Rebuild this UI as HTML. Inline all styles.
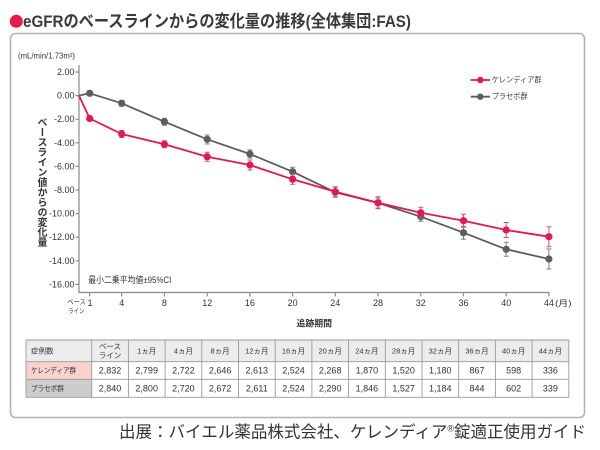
<!DOCTYPE html>
<html>
<head>
<meta charset="utf-8">
<style>
  html,body{margin:0;padding:0;background:#fff;}
  #wrap{position:relative;width:600px;height:450px;overflow:hidden;background:#fff;
    font-family:"Liberation Sans","Noto Sans CJK JP",sans-serif;}
  svg{position:absolute;left:0;top:0;}
  .ylab{position:absolute;left:35px;top:117px;font-size:10px;line-height:10px;font-weight:bold;
    writing-mode:vertical-rl;color:#333;font-family:"Liberation Sans","Noto Sans CJK JP",sans-serif;letter-spacing:0;}
</style>
</head>
<body>
<div id="wrap">
<svg width="600" height="450" viewBox="0 0 600 450" xmlns="http://www.w3.org/2000/svg"
  font-family="Liberation Sans, Noto Sans CJK JP, sans-serif">
  <!-- title -->
  <circle cx="16.3" cy="21.3" r="6.5" fill="#e8194a"/>
  <text x="23" y="27" font-size="17" font-weight="bold" fill="#3a3a3a" textLength="388" lengthAdjust="spacingAndGlyphs">eGFRのベースラインからの変化量の推移(全体集団:FAS)</text>

  <!-- panel -->
  <rect x="10.5" y="33.5" width="574" height="384" rx="5" ry="5" fill="#fff" stroke="#b3b3b3" stroke-width="1.6"/>

  <!-- unit -->
  <text x="18" y="56" font-size="8" fill="#333" dominant-baseline="central" textLength="57" lengthAdjust="spacingAndGlyphs">(mL/min/1.73m²)</text>

  <!-- axes -->
  <g stroke="#8a8a8a" stroke-width="1.2" fill="none">
    <line x1="79" y1="65" x2="79" y2="293"/>
    <line x1="78.4" y1="292.5" x2="549.5" y2="292.5"/>
    <line x1="75.5" y1="72" x2="79" y2="72"/>
    <line x1="75.5" y1="95.6" x2="79" y2="95.6"/>
    <line x1="75.5" y1="119.2" x2="79" y2="119.2"/>
    <line x1="75.5" y1="142.8" x2="79" y2="142.8"/>
    <line x1="75.5" y1="166.4" x2="79" y2="166.4"/>
    <line x1="75.5" y1="190" x2="79" y2="190"/>
    <line x1="75.5" y1="213.6" x2="79" y2="213.6"/>
    <line x1="75.5" y1="237.2" x2="79" y2="237.2"/>
    <line x1="75.5" y1="260.8" x2="79" y2="260.8"/>
    <line x1="75.5" y1="284.4" x2="79" y2="284.4"/>
    <line x1="89.7" y1="292.5" x2="89.7" y2="296.5"/>
    <line x1="121.7" y1="292.5" x2="121.7" y2="296.5"/>
    <line x1="164.4" y1="292.5" x2="164.4" y2="296.5"/>
    <line x1="207.2" y1="292.5" x2="207.2" y2="296.5"/>
    <line x1="249.9" y1="292.5" x2="249.9" y2="296.5"/>
    <line x1="292.6" y1="292.5" x2="292.6" y2="296.5"/>
    <line x1="335.3" y1="292.5" x2="335.3" y2="296.5"/>
    <line x1="378" y1="292.5" x2="378" y2="296.5"/>
    <line x1="420.8" y1="292.5" x2="420.8" y2="296.5"/>
    <line x1="463.5" y1="292.5" x2="463.5" y2="296.5"/>
    <line x1="506.2" y1="292.5" x2="506.2" y2="296.5"/>
    <line x1="548.9" y1="292.5" x2="548.9" y2="296.5"/>
  </g>

  <!-- y tick labels -->
  <g font-size="9" fill="#333" text-anchor="end" dominant-baseline="central">
    <text x="74.5" y="72">2.00</text>
    <text x="74.5" y="95.6">0.00</text>
    <text x="74.5" y="119.2">-2.00</text>
    <text x="74.5" y="142.8">-4.00</text>
    <text x="74.5" y="166.4">-6.00</text>
    <text x="74.5" y="190">-8.00</text>
    <text x="74.5" y="213.6">-10.00</text>
    <text x="74.5" y="237.2">-12.00</text>
    <text x="74.5" y="260.8">-14.00</text>
    <text x="74.5" y="284.4">-16.00</text>
  </g>

  <!-- x tick labels -->
  <g font-size="9" fill="#333" text-anchor="middle" dominant-baseline="central">
    <text x="90" y="303">1</text>
    <text x="121.7" y="303">4</text>
    <text x="164.4" y="303">8</text>
    <text x="207.2" y="303">12</text>
    <text x="249.9" y="303">16</text>
    <text x="292.6" y="303">20</text>
    <text x="335.3" y="303">24</text>
    <text x="378" y="303">28</text>
    <text x="420.8" y="303">32</text>
    <text x="463.5" y="303">36</text>
    <text x="506.2" y="303">40</text>
    <text x="548.9" y="303">44</text>
  </g>
  <text x="555" y="303.5" font-size="8" fill="#333" dominant-baseline="central" textLength="16.5" lengthAdjust="spacingAndGlyphs">(月)</text>
  <text x="67.3" y="302.3" font-size="6.5" fill="#333" dominant-baseline="central" textLength="18.5" lengthAdjust="spacingAndGlyphs">ベース</text>
  <text x="68.3" y="311.7" font-size="6.5" fill="#333" dominant-baseline="central" textLength="16" lengthAdjust="spacingAndGlyphs">ライン</text>
  <text x="296.5" y="323.3" font-size="9" font-weight="bold" fill="#333" dominant-baseline="central" textLength="35.5" lengthAdjust="spacingAndGlyphs">追跡期間</text>

  <!-- CI note -->
  <text x="88.3" y="280" font-size="9" fill="#333" dominant-baseline="central" textLength="83" lengthAdjust="spacingAndGlyphs">最小二乗平均値±95%CI</text>

  <!-- placebo series -->
  <g stroke="#7d8184" stroke-width="1">
    <path d="M89.7 90.8V95.8M87.2 90.8H92.2M87.2 95.8H92.2"/>
    <path d="M121.7 100.3V106.3M119.2 100.3H124.2M119.2 106.3H124.2"/>
    <path d="M164.4 118.2V125.2M161.9 118.2H166.9M161.9 125.2H166.9"/>
    <path d="M207.2 135V144M204.7 135H209.7M204.7 144H209.7"/>
    <path d="M249.9 150V158M247.4 150H252.4M247.4 158H252.4"/>
    <path d="M292.6 167.2V176.2M290.1 167.2H295.1M290.1 176.2H295.1"/>
    <path d="M335.3 187.3V197.3M332.8 187.3H337.8M332.8 197.3H337.8"/>
    <path d="M378 198V208M375.5 198H380.5M375.5 208H380.5"/>
    <path d="M420.8 212.2V221.2M418.3 212.2H423.3M418.3 221.2H423.3"/>
    <path d="M463.5 226.2V239.2M461 226.2H466M461 239.2H466"/>
    <path d="M506.2 242.3V256.3M503.7 242.3H508.7M503.7 256.3H508.7"/>
    <path d="M548.9 249V269M546.4 249H551.4M546.4 269H551.4"/>
  </g>
  <polyline fill="none" stroke="#5b5e61" stroke-width="1.8" stroke-linejoin="round"
    points="79,95.6 89.7,93.3 121.7,103.3 164.4,121.7 207.2,139.3 249.9,154 292.6,171.7 335.3,192.3 378,203 420.8,216.7 463.5,232.7 506.2,249.3 548.9,259"/>
  <g fill="#5b5e61">
    <circle cx="89.7" cy="93.3" r="3.6"/>
    <circle cx="121.7" cy="103.3" r="3.6"/>
    <circle cx="164.4" cy="121.7" r="3.6"/>
    <circle cx="207.2" cy="139.3" r="3.6"/>
    <circle cx="249.9" cy="154" r="3.6"/>
    <circle cx="292.6" cy="171.7" r="3.6"/>
    <circle cx="335.3" cy="192.3" r="3.6"/>
    <circle cx="378" cy="203" r="3.6"/>
    <circle cx="420.8" cy="216.7" r="3.6"/>
    <circle cx="463.5" cy="232.7" r="3.6"/>
    <circle cx="506.2" cy="249.3" r="3.6"/>
    <circle cx="548.9" cy="259" r="3.6"/>
  </g>

  <!-- kerendia series -->
  <g stroke="#d9506e" stroke-width="1">
    <path d="M89.7 116V121M87.2 116H92.2M87.2 121H92.2"/>
    <path d="M121.7 130.5V137.5M119.2 130.5H124.2M119.2 137.5H124.2"/>
    <path d="M164.4 140.8V147.8M161.9 140.8H166.9M161.9 147.8H166.9"/>
    <path d="M207.2 152.2V161.2M204.7 152.2H209.7M204.7 161.2H209.7"/>
    <path d="M249.9 160V170M247.4 160H252.4M247.4 170H252.4"/>
    <path d="M292.6 174.3V184.3M290.1 174.3H295.1M290.1 184.3H295.1"/>
    <path d="M335.3 186.7V196.7M332.8 186.7H337.8M332.8 196.7H337.8"/>
    <path d="M378 196.7V208.7M375.5 196.7H380.5M375.5 208.7H380.5"/>
    <path d="M420.8 207.2V218.2M418.3 207.2H423.3M418.3 218.2H423.3"/>
    <path d="M463.5 214.2V227.2M461 214.2H466M461 227.2H466"/>
    <path d="M506.2 222.5V237.5M503.7 222.5H508.7M503.7 237.5H508.7"/>
    <path d="M548.9 226.7V246.7M546.4 226.7H551.4M546.4 246.7H551.4"/>
  </g>
  <polyline fill="none" stroke="#e2194c" stroke-width="1.8" stroke-linejoin="round"
    points="79,95.6 89.7,118.5 121.7,134 164.4,144.3 207.2,156.7 249.9,165 292.6,179.3 335.3,191.7 378,202.7 420.8,212.7 463.5,220.7 506.2,230 548.9,236.7"/>
  <g fill="#e2194c">
    <circle cx="89.7" cy="118.5" r="3.6"/>
    <circle cx="121.7" cy="134" r="3.6"/>
    <circle cx="164.4" cy="144.3" r="3.6"/>
    <circle cx="207.2" cy="156.7" r="3.6"/>
    <circle cx="249.9" cy="165" r="3.6"/>
    <circle cx="292.6" cy="179.3" r="3.6"/>
    <circle cx="335.3" cy="191.7" r="3.6"/>
    <circle cx="378" cy="202.7" r="3.6"/>
    <circle cx="420.8" cy="212.7" r="3.6"/>
    <circle cx="463.5" cy="220.7" r="3.6"/>
    <circle cx="506.2" cy="230" r="3.6"/>
    <circle cx="548.9" cy="236.7" r="3.6"/>
  </g>

  <!-- legend -->
  <line x1="470.7" y1="80" x2="490" y2="80" stroke="#e2194c" stroke-width="1.8"/>
  <circle cx="480.3" cy="80" r="3.2" fill="#e2194c"/>
  <text x="491.7" y="80" font-size="8" fill="#444" dominant-baseline="central" textLength="50" lengthAdjust="spacingAndGlyphs">ケレンディア群</text>
  <line x1="470.7" y1="96.7" x2="490" y2="96.7" stroke="#5b5e61" stroke-width="1.8"/>
  <circle cx="480.3" cy="96.7" r="3.2" fill="#5b5e61"/>
  <text x="491.7" y="96.7" font-size="8" fill="#444" dominant-baseline="central" textLength="36" lengthAdjust="spacingAndGlyphs">プラセボ群</text>

  <!-- table -->
  <rect x="26" y="340" width="543" height="21.7" fill="#ececec"/>
  <rect x="26" y="361.7" width="65.7" height="17.6" fill="#f8d3cc"/>
  <rect x="26" y="379.3" width="65.7" height="18" fill="#cdcdcd"/>
  <g stroke="#9a9a9a" stroke-width="0.9">
    <line x1="26" y1="340" x2="569" y2="340"/>
    <line x1="26" y1="361.7" x2="569" y2="361.7"/>
    <line x1="26" y1="379.3" x2="569" y2="379.3"/>
    <line x1="26" y1="397.3" x2="569" y2="397.3"/>
    <line x1="26" y1="340" x2="26" y2="397.3"/>
    <line x1="91.7" y1="340" x2="91.7" y2="397.3"/>
    <line x1="128.4" y1="340" x2="128.4" y2="397.3"/>
    <line x1="165.1" y1="340" x2="165.1" y2="397.3"/>
    <line x1="201.8" y1="340" x2="201.8" y2="397.3"/>
    <line x1="238.5" y1="340" x2="238.5" y2="397.3"/>
    <line x1="275.2" y1="340" x2="275.2" y2="397.3"/>
    <line x1="311.9" y1="340" x2="311.9" y2="397.3"/>
    <line x1="348.6" y1="340" x2="348.6" y2="397.3"/>
    <line x1="385.3" y1="340" x2="385.3" y2="397.3"/>
    <line x1="422" y1="340" x2="422" y2="397.3"/>
    <line x1="458.7" y1="340" x2="458.7" y2="397.3"/>
    <line x1="495.4" y1="340" x2="495.4" y2="397.3"/>
    <line x1="532.1" y1="340" x2="532.1" y2="397.3"/>
    <line x1="568.8" y1="340" x2="568.8" y2="397.3"/>
  </g>
  <g font-size="7.5" fill="#333" dominant-baseline="central">
    <text x="31" y="351">症例数</text>
    <text x="31" y="370.5" textLength="45" lengthAdjust="spacingAndGlyphs">ケレンディア群</text>
    <text x="31" y="388.5" textLength="33" lengthAdjust="spacingAndGlyphs">プラセボ群</text>
  </g>
  <g font-size="7.5" fill="#333" text-anchor="middle" dominant-baseline="central">
    <text x="110" y="346.5">ベース</text>
    <text x="110" y="355.5">ライン</text>
    <text x="146.7" y="351">1ヵ月</text>
    <text x="183.4" y="351">4ヵ月</text>
    <text x="220.1" y="351">8ヵ月</text>
    <text x="256.8" y="351">12ヵ月</text>
    <text x="293.5" y="351">16ヵ月</text>
    <text x="330.2" y="351">20ヵ月</text>
    <text x="366.9" y="351">24ヵ月</text>
    <text x="403.6" y="351">28ヵ月</text>
    <text x="440.3" y="351">32ヵ月</text>
    <text x="477" y="351">36ヵ月</text>
    <text x="513.7" y="351">40ヵ月</text>
    <text x="550.4" y="351">44ヵ月</text>
  </g>
  <g font-size="9" fill="#333" text-anchor="middle" dominant-baseline="central">
    <text x="110" y="370.5">2,832</text>
    <text x="146.7" y="370.5">2,799</text>
    <text x="183.4" y="370.5">2,722</text>
    <text x="220.1" y="370.5">2,646</text>
    <text x="256.8" y="370.5">2,613</text>
    <text x="293.5" y="370.5">2,524</text>
    <text x="330.2" y="370.5">2,268</text>
    <text x="366.9" y="370.5">1,870</text>
    <text x="403.6" y="370.5">1,520</text>
    <text x="440.3" y="370.5">1,180</text>
    <text x="477" y="370.5">867</text>
    <text x="513.7" y="370.5">598</text>
    <text x="550.4" y="370.5">336</text>

    <text x="110" y="388.5">2,840</text>
    <text x="146.7" y="388.5">2,800</text>
    <text x="183.4" y="388.5">2,720</text>
    <text x="220.1" y="388.5">2,672</text>
    <text x="256.8" y="388.5">2,611</text>
    <text x="293.5" y="388.5">2,524</text>
    <text x="330.2" y="388.5">2,290</text>
    <text x="366.9" y="388.5">1,846</text>
    <text x="403.6" y="388.5">1,527</text>
    <text x="440.3" y="388.5">1,184</text>
    <text x="477" y="388.5">844</text>
    <text x="513.7" y="388.5">602</text>
    <text x="550.4" y="388.5">339</text>
  </g>

  <!-- footer -->
  <text x="119" y="437.5" font-size="16.5" fill="#333">出展：バイエル薬品株式会社、ケレンディア<tspan font-size="9" dy="-6">®</tspan><tspan dy="6">錠適正使用ガイド</tspan></text>
</svg>
<div class="ylab">ベースライン値からの変化量</div>
</div>
</body>
</html>
